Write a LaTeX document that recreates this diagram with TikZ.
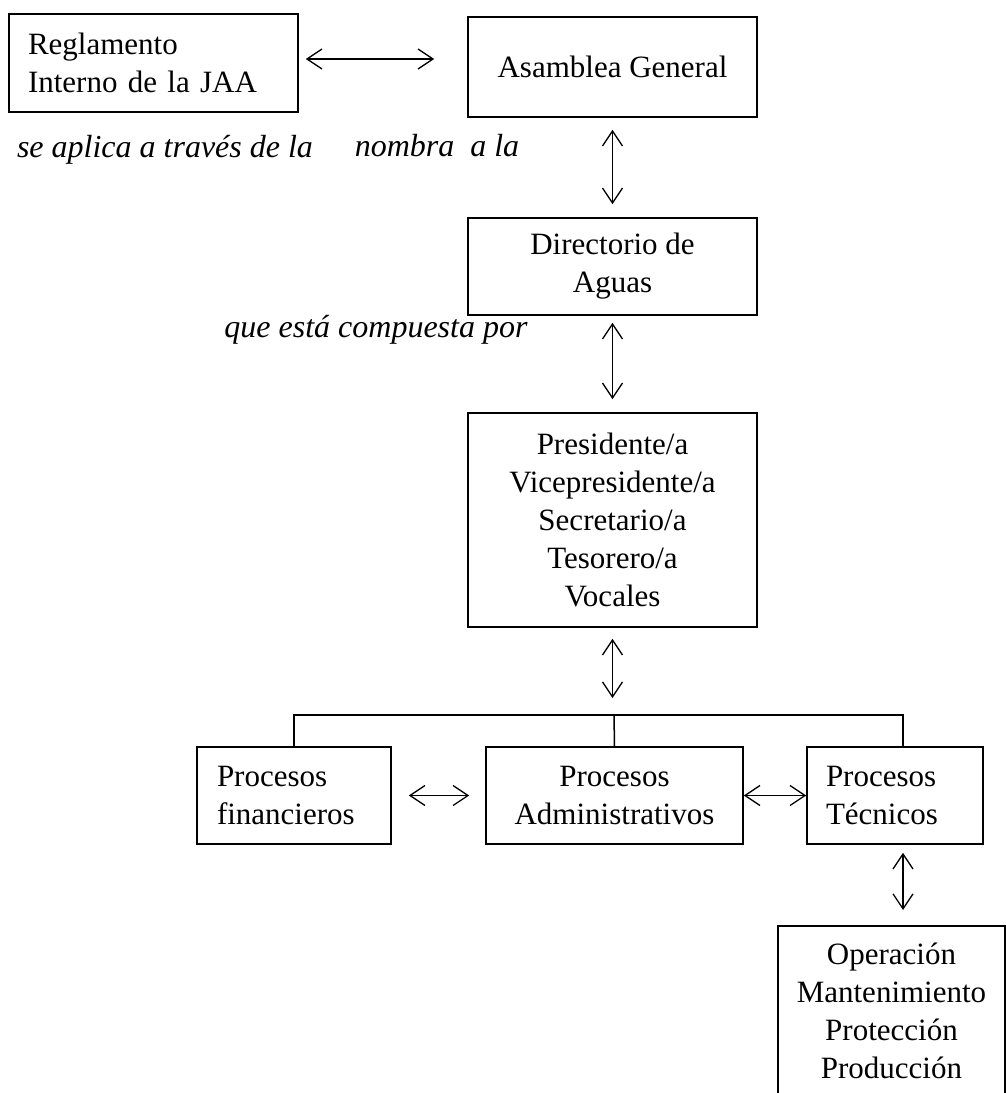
\documentclass[tikz,border=0pt]{standalone}
\usepackage{fontspec}
\setmainfont{Liberation Serif}
\usetikzlibrary{arrows.meta, positioning}

\begin{document}
\begin{tikzpicture}[
            x=1pt, y=-1pt,
            >={Straight Barb[length=15pt,width=20pt]},
            font=\fontsize{31}{38}\selectfont,
            box/.style={draw, line width=1.6pt, inner sep=0pt, align=center},
            link/.style={<->, line width=1.3pt},
            note/.style={font=\fontsize{32}{36}\selectfont\itshape}
        ]
        \useasboundingbox (0,0) rectangle (1006,1093);

        % Define boxes
        \node[box, inner xsep=19pt, text width=251pt, minimum height=98pt, align=left] (regl) at (153.5,63) {Reglamento\\Interno de la JAA};
        \node[box, minimum width=289pt, minimum height=100pt] (asam) at (612.5,67) {Asamblea General};
        \node[box, minimum width=289pt, minimum height=97pt] (dir) at (612.5,266.5) {Directorio de\\Aguas};
        \node[box, minimum width=289pt, minimum height=214pt] (pres) at (612.5,520) {Presidente/a\\Vicepresidente/a\\Secretario/a\\Tesorero/a\\Vocales};
        \node[box, inner xsep=20pt, text width=154pt, minimum height=97pt, align=left] (fin) at (294,795.5) {Procesos\\financieros};
        \node[box, minimum width=257pt, minimum height=97pt] (adm) at (614.5,795.5) {Procesos\\Administrativos};
        \node[box, inner xsep=19pt, text width=138pt, minimum height=97pt, align=left] (tec) at (895,795.5) {Procesos\\Técnicos};
        \node[box, anchor=north, inner ysep=17pt, minimum width=227pt] (oper) at (891.5,925) {Operación\\Mantenimiento\\Protección\\Producción};

        % Labels
        \node[note] (aplica) at (165,150) {se aplica a través de la};
        \node[note] (nombra) at (437,146) {nombra\ \ a la};
        \node[note] (compuesta) at (376,330) {que está compuesta por};

        % Draw connections
        \coordinate (bus) at (614,715);
        \draw[link, shorten <=7pt, shorten >=33pt] ([yshift=4pt]regl.east) -- ([yshift=4pt]regl.east -| asam.west);
        \draw[link, shorten <=12pt, shorten >=13pt] (asam.south) -- (dir.north);
        \draw[link, shorten <=7pt, shorten >=13pt] (dir.south) -- (pres.north);
        \draw[link, shorten <=11pt, shorten >=17pt] (pres.south) -- (pres.south |- bus);
        \draw[line width=1.5pt] (fin.north) |- (bus) -| ([xshift=8pt]tec.north);
        \draw[line width=1.5pt] (bus) -- (adm.north);
        \draw[link, shorten <=17pt, shorten >=16pt] (fin.east) -- (adm.west);
        \draw[link] (adm.east) -- (tec.west);
        \draw[link, shorten <=8pt, shorten >=15pt] ([xshift=8pt]tec.south) -- ([xshift=8pt]tec.south |- oper.north);
\end{tikzpicture}
\end{document}
